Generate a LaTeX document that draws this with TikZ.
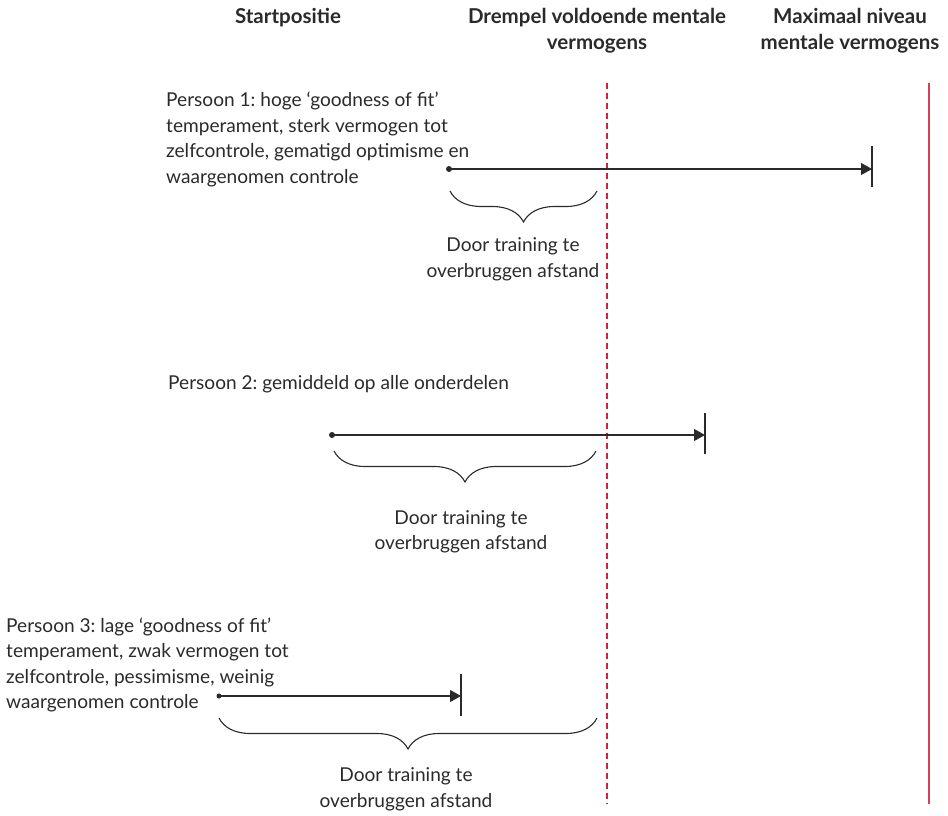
\documentclass[tikz,border=0pt]{standalone}
\usepackage{fontspec}
\setmainfont{Lato}
\frenchspacing
\usetikzlibrary{arrows.meta,decorations.pathreplacing,positioning}

\definecolor{tekst}{HTML}{2A2A2A}
\definecolor{lijnrood}{RGB}{208,32,58}
\definecolor{maxrood}{RGB}{214,62,92}

\tikzset{
    kop/.style={font=\bfseries\fontsize{20.5}{26}\selectfont, align=center, text=tekst, anchor=north, inner sep=0pt},
    persoon/.style={font=\fontsize{19.1}{25.4}\selectfont, align=left, text=tekst, anchor=north west, inner sep=0pt},
    uitleg/.style={font=\fontsize{19.1}{25.8}\selectfont, align=center, text=tekst, anchor=north, inner sep=0pt},
    pijl/.style={draw=tekst, line width=1.1pt, -{Triangle[length=11pt,width=12pt]}},
    eindstreep/.style={draw=tekst, line width=1.3pt},
    accolade/.style={draw=tekst, line width=1.1pt, decorate, decoration={brace, mirror, amplitude=31pt}},
    punt/.style={circle, fill=tekst, inner sep=0pt, minimum size=6pt},
    grens/.style={line width=1.2pt}
}

\begin{document}
\begin{tikzpicture}[x=1pt, y=-1pt]
\useasboundingbox (0,0) rectangle (948,816);

% Headings
\node[kop] (start) at (288,8) {Startpositie};
\node[kop] (drempel) at (597,8) {Drempel voldoende mentale\\vermogens};
\node[kop] (maximaal) at (850,8) {Maximaal niveau\\mentale vermogens};

% Vertical lines
\draw[grens, draw=lijnrood, dash pattern=on 6pt off 4pt] (607,83) -- (607,804);
\draw[grens, draw=maxrood] (929,83) -- (929,804);

% Persoon 1
\node[persoon] (p1) at (166,92) {Persoon 1: hoge `goodness of fit'\\temperament, sterk vermogen tot\\zelfcontrole, gematigd optimisme en\\waargenomen controle};
\node[punt] (s1) at (449,169) {};
\coordinate (e1) at (872,169);
\draw[pijl] (s1.center) -- (e1);
\draw[eindstreep] ([yshift=-18pt]e1) -- ([yshift=23pt]e1);
\draw[accolade] (450,191) -- (597,191);
\node[uitleg] (a1) at (513,237.6) {Door training te\\overbruggen afstand};

% Persoon 2
\node[persoon] (p2) at (168,375.6) {Persoon 2: gemiddeld op alle onderdelen};
\node[punt] (s2) at (332,435) {};
\coordinate (e2) at (705,435);
\draw[pijl] (s2.center) -- (e2);
\draw[eindstreep] ([yshift=-19pt]e2) -- ([yshift=22pt]e2);
\draw[accolade] (334,451) -- (596,451);
\node[uitleg] (a2) at (461,510) {Door training te\\overbruggen afstand};

% Persoon 3
\node[persoon] (p3) at (6,617.5) {Persoon 3: lage `goodness of fit'\\temperament, zwak vermogen tot\\zelfcontrole, pessimisme, weinig\\waargenomen controle};
\node[punt, minimum size=5pt] (s3) at (219,696) {};
\coordinate (e3) at (461,696);
\draw[pijl] (s3.center) -- (e3);
\draw[eindstreep] ([yshift=-20pt]e3) -- ([yshift=22pt]e3);
\draw[accolade] (219,718) -- (597,718);
\node[uitleg] (a3) at (406,767.6) {Door training te\\overbruggen afstand};

\end{tikzpicture}
\end{document}
